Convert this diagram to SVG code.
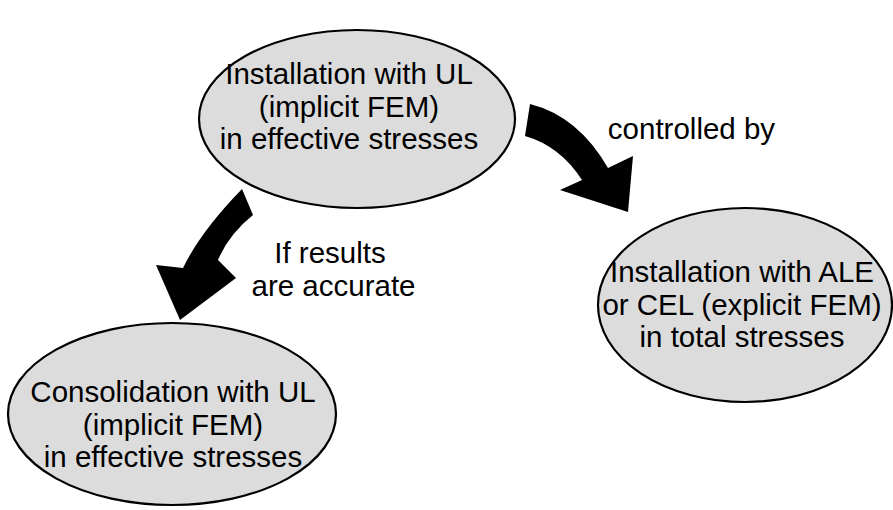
<svg xmlns="http://www.w3.org/2000/svg" width="893" height="510" viewBox="0 0 893 510">
<style>
.node ellipse{fill:#dcdcdc;stroke:#000;stroke-width:2.2}
text{font-family:"Liberation Sans",Arial,sans-serif;font-size:29.5px;fill:#000;text-anchor:middle}
.arrow{fill:#000;stroke:none}
</style>
<rect width="893" height="510" fill="#fff"/>
<g id="connectors">
<path class="arrow" d="M530,104 Q578,116 608,168 L633,156 L628,212 L560,190 L582,180 Q560,146 525,136 Z"/>
<path class="arrow" d="M242,189 Q201,231 183,268 L156,265 L180,320 L236,278 L218,260 Q229,234 253,215 Z"/>
<text x="691.5" y="139">controlled by</text>
<text x="330" y="263">If results</text>
<text x="333.5" y="296">are accurate</text>
</g>
<g id="node-install-ul" class="node">
<ellipse cx="357" cy="119" rx="158" ry="89"/>
<text x="349" y="84">Installation with UL</text>
<text x="349" y="116.5">(implicit FEM)</text>
<text x="349" y="149">in effective stresses</text>
</g>
<g id="node-consolidation" class="node">
<ellipse cx="172" cy="414" rx="164" ry="91"/>
<text x="173" y="402">Consolidation with UL</text>
<text x="173" y="434.5">(implicit FEM)</text>
<text x="173" y="467">in effective stresses</text>
</g>
<g id="node-install-ale" class="node">
<ellipse cx="745" cy="305" rx="147" ry="97"/>
<text x="742" y="282">Installation with ALE</text>
<text x="742" y="314.5">or CEL (explicit FEM)</text>
<text x="742" y="347">in total stresses</text>
</g>
</svg>
